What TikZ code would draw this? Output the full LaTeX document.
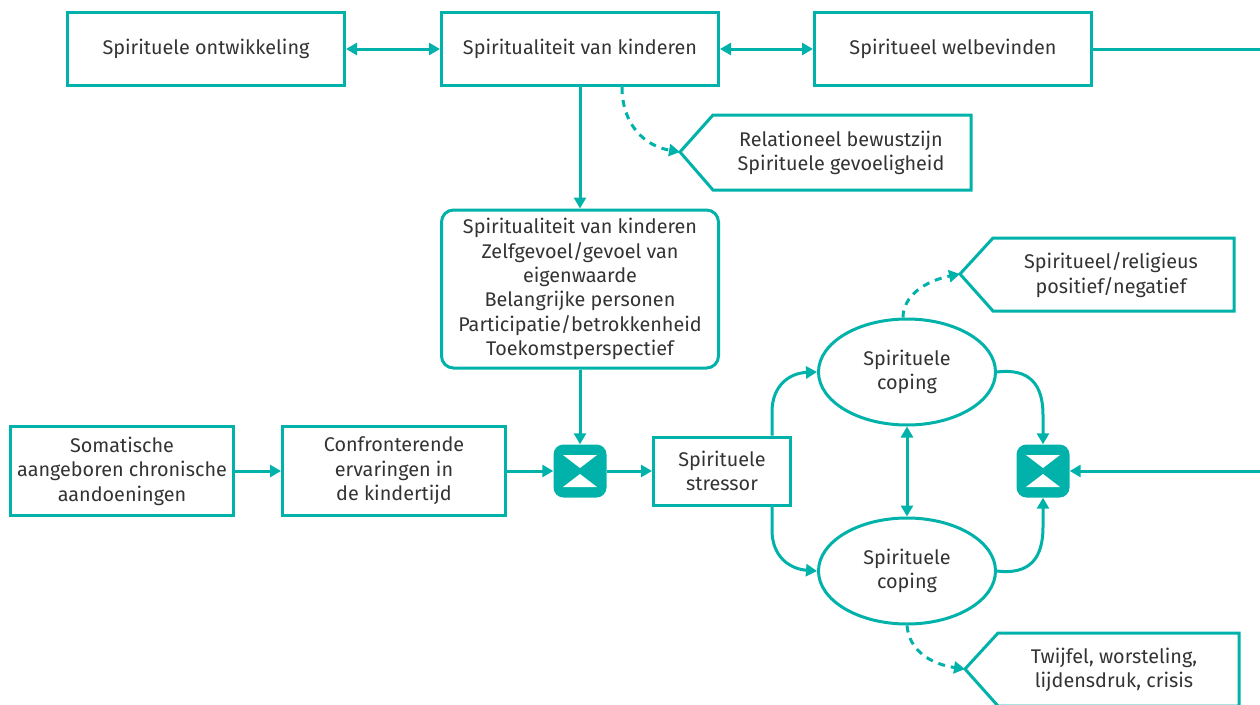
\documentclass[tikz,border=0pt]{standalone}
\usepackage{fontspec}
\setmainfont{Fira Sans}
\usetikzlibrary{arrows.meta,calc,shapes.geometric}
\definecolor{teal1}{RGB}{0,178,169}
\definecolor{txt}{RGB}{51,51,51}
\begin{document}
\begin{tikzpicture}[x=1pt,y=-1pt,
  every node/.style={font=\fontsize{19.8}{24.4}\selectfont, text=txt},
  box/.style={draw=teal1, line width=3pt, align=center, inner sep=2pt},
  rbox/.style={box, rounded corners=12pt},
  cop/.style={ellipse, draw=teal1, line width=3pt, align=center, minimum width=177pt, minimum height=106pt, inner sep=0pt},
  xbox/.style={fill=teal1, rounded corners=10pt, minimum size=53pt, inner sep=0pt,
    path picture={
      \fill[white, sharp corners] ([shift={(-17,-16)}]path picture bounding box.center) -- ([shift={(17,-16)}]path picture bounding box.center) -- ([shift={(0,-3)}]path picture bounding box.center) -- cycle;
      \fill[white, sharp corners] ([shift={(-17,16)}]path picture bounding box.center) -- ([shift={(17,16)}]path picture bounding box.center) -- ([shift={(0,3)}]path picture bounding box.center) -- cycle;
    }},
  callout/.style={draw=teal1, line width=3pt, line join=miter},
  conn/.style={draw=teal1, line width=3pt, -{Triangle[length=11pt,width=12pt]}},
  dconn/.style={draw=teal1, line width=3pt, {Triangle[length=11pt,width=12pt]}-{Triangle[length=11pt,width=12pt]}},
  plainconn/.style={draw=teal1, line width=3pt},
  dashconn/.style={draw=teal1, line width=3pt, dash pattern=on 7pt off 6pt, -{Triangle[length=11pt,width=12pt]}}
]
\useasboundingbox (0,0) rectangle (1260,704);

% top row
\node[box, minimum width=277pt, minimum height=73pt] (ontw) at (206,49) {Spirituele ontwikkeling};
\node[box, minimum width=277pt, minimum height=73pt] (spk) at (580,49) {Spiritualiteit van kinderen};
\node[box, minimum width=277pt, minimum height=73pt] (welb) at (953,49) {Spiritueel welbevinden};
\coordinate (re1) at (1264,49);
\coordinate (re2) at (1264,471);

% callouts
\draw[callout] (680,152) coordinate (t1) -- (713,115) -- (971,115) -- (971,190) -- (713,190) -- cycle;
\node[align=center] (c1) at (841,153) {Relationeel bewustzijn\\Spirituele gevoeligheid};
\draw[callout] (960,274) coordinate (t2) -- (993,238) -- (1234,238) -- (1234,311) -- (993,311) -- cycle;
\node[align=center] (c2) at (1111,275) {Spiritueel/religieus\\positief/negatief};
\draw[callout] (965,669) coordinate (t3) -- (998,633) -- (1239,633) -- (1239,706) -- (998,706) -- cycle;
\node[align=center] (c3) at (1114,670) {Twijfel, worsteling,\\lijdensdruk, crisis};

% middle box
\node[rbox, minimum width=277pt, minimum height=158pt] (dims) at (580,289) {Spiritualiteit van kinderen\\Zelfgevoel/gevoel van\\eigenwaarde\\Belangrijke personen\\Participatie/betrokkenheid\\Toekomstperspectief};

% lower row
\node[box, minimum width=223pt, minimum height=89pt] (som) at (122,471) {Somatische\\aangeboren chronische\\aandoeningen};
\node[box, minimum width=223pt, minimum height=89pt] (conf) at (394,471) {Confronterende\\ervaringen in\\de kindertijd};
\node[xbox] (x1) at (580,471) {};
\node[box, minimum width=137pt, minimum height=68pt] (str) at (722,471) {Spirituele\\stressor};
\node[cop] (cop1) at (907,372) {Spirituele\\coping};
\node[cop] (cop2) at (907,571) {Spirituele\\coping};
\node[xbox] (x2) at (1043,471) {};

% connectors
\draw[dconn] (ontw.east) -- (spk.west);
\draw[dconn] (spk.east) -- (welb.west);
\draw[plainconn] (welb.east) -- (re1);
\draw[conn] (spk.south) -- (dims.north);
\draw[dashconn] ([xshift=42pt]spk.south) .. controls (622,125) and (645,146) .. (t1);
\draw[conn] (dims.south) -- (x1.north);
\draw[conn] (som.east) -- (conf.west);
\draw[conn] (conf.east) -- (x1.west);
\draw[conn] (x1.east) -- (str.west);
\draw[conn] ([xshift=-20pt]str.north east) -- (772,412) .. controls (772,385) and (790,373) .. (cop1.west);
\draw[conn] ([xshift=-20pt]str.south east) -- (772,530) .. controls (772,557) and (790,569) .. (cop2.west);
\draw[dconn] (cop1.south) -- (cop2.north);
\draw[conn] (cop1.east) .. controls (1030,368) and (1043,385) .. (1043,415) -- (x2.north);
\draw[conn] (cop2.east) .. controls (1030,575) and (1043,558) .. (1043,527) -- (x2.south);
\draw[conn] (re2) -- (x2.east);
\draw[dashconn] ([xshift=-4pt]cop1.north) .. controls (903,296) and (925,281) .. (t2);
\draw[dashconn] (cop2.south) .. controls (909,650) and (930,664) .. (t3);
\end{tikzpicture}
\end{document}
